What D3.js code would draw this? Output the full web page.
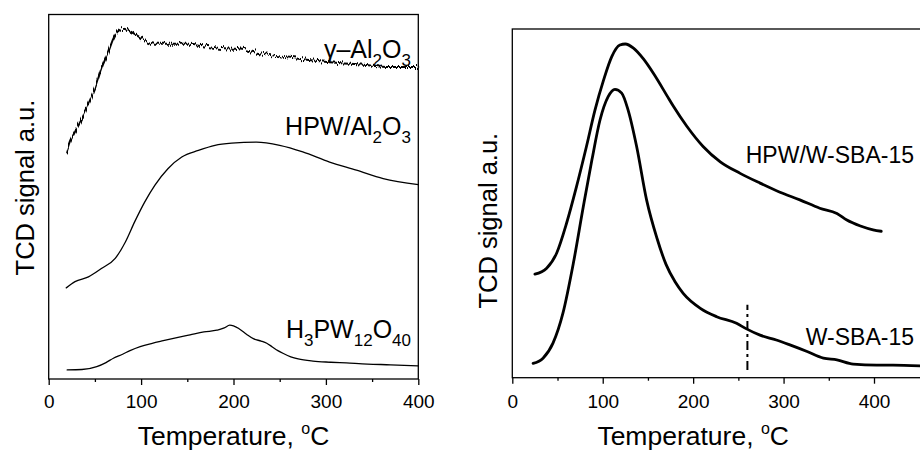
<!DOCTYPE html>
<html>
<head>
<meta charset="utf-8">
<script src="https://cdn.jsdelivr.net/npm/d3@7"></script>
<style>
	body { margin: 0; background: #fff; }
	svg { display: block; }
	text { font-family: "Liberation Sans", Arial, sans-serif; fill: #000; }
</style>
</head>
<body>
<div id="chart"></div>
<script>
// ---- data (temperature in degC, signal in a.u.) ----
var gammaTemp = [20, 23, 28.5, 36, 43, 50, 57, 64.5, 70, 75, 81, 86, 93, 104, 115, 133, 151, 169, 187, 202, 232, 268, 304, 340, 369, 400];
var gammaSignal = [62.7, 65.0, 67.8, 71.4, 75.5, 79.7, 85.1, 89.7, 93.4, 95.4, 96.1, 95.6, 94.7, 92.9, 92.0, 92.0, 92.0, 91.5, 90.8, 90.6, 89.2, 87.9, 86.9, 86.2, 85.6, 85.6];

var hpwAlTemp = [19, 28.5, 43, 57, 72, 83, 93, 104, 115, 129, 144, 162, 180, 198, 225, 250, 275, 304, 333, 362, 400];
var hpwAlSignal = [25.0, 26.7, 28.0, 30.3, 33.1, 37.6, 43.1, 48.6, 53.2, 57.7, 60.9, 62.7, 64.1, 64.7, 65.0, 64.1, 62.3, 59.5, 57.3, 55.0, 53.3];

var hpaTemp = [20, 36, 52, 62, 70, 80, 88, 99, 112, 124, 140, 153, 168, 182, 190, 196, 200, 206, 214, 222, 230, 236, 242, 248, 254, 262, 270, 286, 305, 322, 345, 370, 400];
var hpaSignal = [2.5, 2.6, 3.4, 4.5, 5.7, 6.8, 7.8, 8.9, 9.8, 10.5, 11.4, 12.1, 12.9, 13.4, 14.0, 14.8, 14.6, 13.8, 12.3, 11.0, 10.4, 9.8, 8.8, 7.8, 7.0, 6.1, 5.5, 4.9, 4.6, 4.4, 4.1, 3.9, 3.6];

var hpwSbaTemp = [25, 38, 49, 60, 71, 82, 91.5, 101, 110, 119, 125, 134, 145, 156, 171, 178, 193, 211, 230, 252, 274, 296, 318, 340, 359, 370, 385, 399, 408];
var hpwSbaSignal = [29.7, 31.4, 35.7, 44.3, 54.8, 66.3, 76.8, 85.4, 92.1, 95.4, 95.7, 94.5, 91.4, 87.3, 80.9, 77.9, 72.1, 66.3, 61.9, 58.6, 55.8, 53.2, 51.0, 48.6, 47.1, 45.2, 43.5, 42.4, 42.0];

var wSbaTemp = [23, 34, 45, 56, 67.5, 78.5, 88, 97, 106, 113.5, 121, 128, 137.5, 148.5, 160, 170, 180, 189, 208, 226, 248, 259, 274, 292, 307, 326, 344, 359, 377, 403, 421, 451];
var wSbaSignal = [4.1, 5.6, 9.9, 18.5, 32.8, 49.0, 62.4, 73.9, 80.6, 82.7, 81.6, 76.8, 66.3, 51.0, 40.0, 32.5, 27.5, 24.2, 19.9, 17.5, 15.6, 14.0, 12.2, 10.8, 9.4, 7.5, 5.6, 5.1, 3.9, 3.6, 3.6, 3.4];

// dash-dot marker in the right panel
var markerTemp = 260;
var markerSignal = [2.2, 20.9];

var majorTicks = [0, 100, 200, 300, 400];
var minorTicks = [50, 150, 250, 350];

var width = 920, height = 451;

var svg = d3.select("#chart").append("svg")
	.attr("width", width).attr("height", height);
svg.append("rect").attr("width", width).attr("height", height).attr("fill", "#fff");

// jitter filter for the noisy gamma-alumina trace (vertical displacement only)
var filt = svg.append("defs").append("filter").attr("id", "noisy")
	.attr("filterUnits", "userSpaceOnUse")
	.attr("x", 40).attr("y", 0).attr("width", 400).attr("height", 200)
	.attr("color-interpolation-filters", "sRGB");
filt.append("feTurbulence").attr("type", "fractalNoise")
	.attr("baseFrequency", "0.8 0.03").attr("numOctaves", 1).attr("seed", 4)
	.attr("result", "turb");
var ct = filt.append("feComponentTransfer").attr("in", "turb").attr("result", "map");
ct.append("feFuncR").attr("type", "linear").attr("slope", 0).attr("intercept", 0.5);
ct.append("feFuncA").attr("type", "linear").attr("slope", 0).attr("intercept", 1);
filt.append("feDisplacementMap").attr("in", "SourceGraphic").attr("in2", "map")
	.attr("scale", 11).attr("xChannelSelector", "R").attr("yChannelSelector", "G");

function zip(xs, ys) {
	return xs.map(function(t, i) { return [t, ys[i]]; });
}

function drawPanel(p) {
	var x = d3.scaleLinear().domain([0, 400]).range([p.left, p.x400]);
	var y = d3.scaleLinear().domain([0, 100]).range([p.bottom, p.top]);
	var g = svg.append("g");

	// frame
	g.append("rect")
		.attr("x", p.left).attr("y", p.top)
		.attr("width", p.right - p.left).attr("height", p.bottom - p.top)
		.attr("fill", "none").attr("stroke", "#000").attr("stroke-width", 1.3);

	// bottom axis: major + minor ticks, outward
	var major = g.append("g").attr("transform", "translate(0," + p.bottom + ")")
		.call(d3.axisBottom(x).tickValues(majorTicks).tickSize(6).tickPadding(p.pad));
	major.select(".domain").remove();
	major.selectAll("line").attr("stroke-width", 1.3);
	major.selectAll("text").attr("font-size", 19).attr("font-family", null);
	var minor = g.append("g").attr("transform", "translate(0," + p.bottom + ")")
		.call(d3.axisBottom(x).tickValues(minorTicks).tickSize(3).tickFormat(""));
	minor.select(".domain").remove();
	minor.selectAll("line").attr("stroke-width", 1.3);

	// axis titles
	var xt = g.append("text").attr("x", x(200)).attr("y", 445)
		.attr("text-anchor", "middle").attr("font-size", 26.5);
	xt.append("tspan").text("Temperature, ");
	xt.append("tspan").attr("font-size", 16).attr("dy", -11).text("o");
	xt.append("tspan").attr("dy", 11).text("C");

	g.append("text")
		.attr("transform", "translate(" + p.ytX + "," + p.ytY + ") rotate(-90)")
		.attr("text-anchor", "middle").attr("font-size", 25.5)
		.text("TCD signal a.u.");

	var line = d3.line()
		.x(function(d) { return x(d[0]); })
		.y(function(d) { return y(d[1]); })
		.curve(d3.curveMonotoneX);

	p.series.forEach(function(s) {
		var path = g.append("path").datum(zip(s.t, s.v))
			.attr("d", line)
			.attr("fill", "none").attr("stroke", "#000")
			.attr("stroke-width", p.lineWidth)
			.attr("stroke-linejoin", "round").attr("stroke-linecap", "round");
		if (s.noisy) {
			path.attr("filter", "url(#noisy)").attr("stroke-width", 2);
		}
	});

	return { x: x, y: y, g: g };
}

// label with subscripts: parts = [[text, isSub], ...]
function chemLabel(g, xEnd, yBase, size, parts) {
	var t = g.append("text").attr("x", xEnd).attr("y", yBase)
		.attr("text-anchor", "end").attr("font-size", size);
	var down = false;
	parts.forEach(function(part) {
		var span = t.append("tspan").text(part[0]);
		if (part[1]) {
			span.attr("font-size", size * 0.68).attr("dy", down ? 0 : 8);
			down = true;
		} else {
			span.attr("dy", down ? -8 : 0);
			down = false;
		}
	});
}

var left = drawPanel({
	left: 48.7, right: 418.3, x400: 418.3, top: 14.5, bottom: 379, pad: 10,
	ytX: 33.5, ytY: 187.5, lineWidth: 1.3,
	series: [
		{ t: gammaTemp, v: gammaSignal, noisy: true },
		{ t: hpwAlTemp, v: hpwAlSignal },
		{ t: hpaTemp, v: hpaSignal }
	]
});

chemLabel(left.g, 411, 58, 25, [["\u03B3\u2013Al", false], ["2", true], ["O", false], ["3", true]]);
chemLabel(left.g, 411, 135, 25, [["HPW/Al", false], ["2", true], ["O", false], ["3", true]]);
chemLabel(left.g, 411, 338, 25, [["H", false], ["3", true], ["PW", false], ["12", true], ["O", false], ["40", true]]);

var right = drawPanel({
	left: 512.3, right: 935, x400: 874, top: 29, bottom: 377.7, pad: 11,
	ytX: 496.5, ytY: 220.7, lineWidth: 2.8,
	series: [
		{ t: hpwSbaTemp, v: hpwSbaSignal },
		{ t: wSbaTemp, v: wSbaSignal }
	]
});

right.g.append("line")
	.attr("x1", right.x(markerTemp)).attr("x2", right.x(markerTemp))
	.attr("y1", right.y(markerSignal[0])).attr("y2", right.y(markerSignal[1]))
	.attr("stroke", "#000").attr("stroke-width", 2)
	.attr("stroke-dasharray", "9,4,3,4");

right.g.append("text").attr("x", 914).attr("y", 163.3)
	.attr("text-anchor", "end").attr("font-size", 23).text("HPW/W-SBA-15");
right.g.append("text").attr("x", 914).attr("y", 345)
	.attr("text-anchor", "end").attr("font-size", 23).text("W-SBA-15");
</script>
</body>
</html>
